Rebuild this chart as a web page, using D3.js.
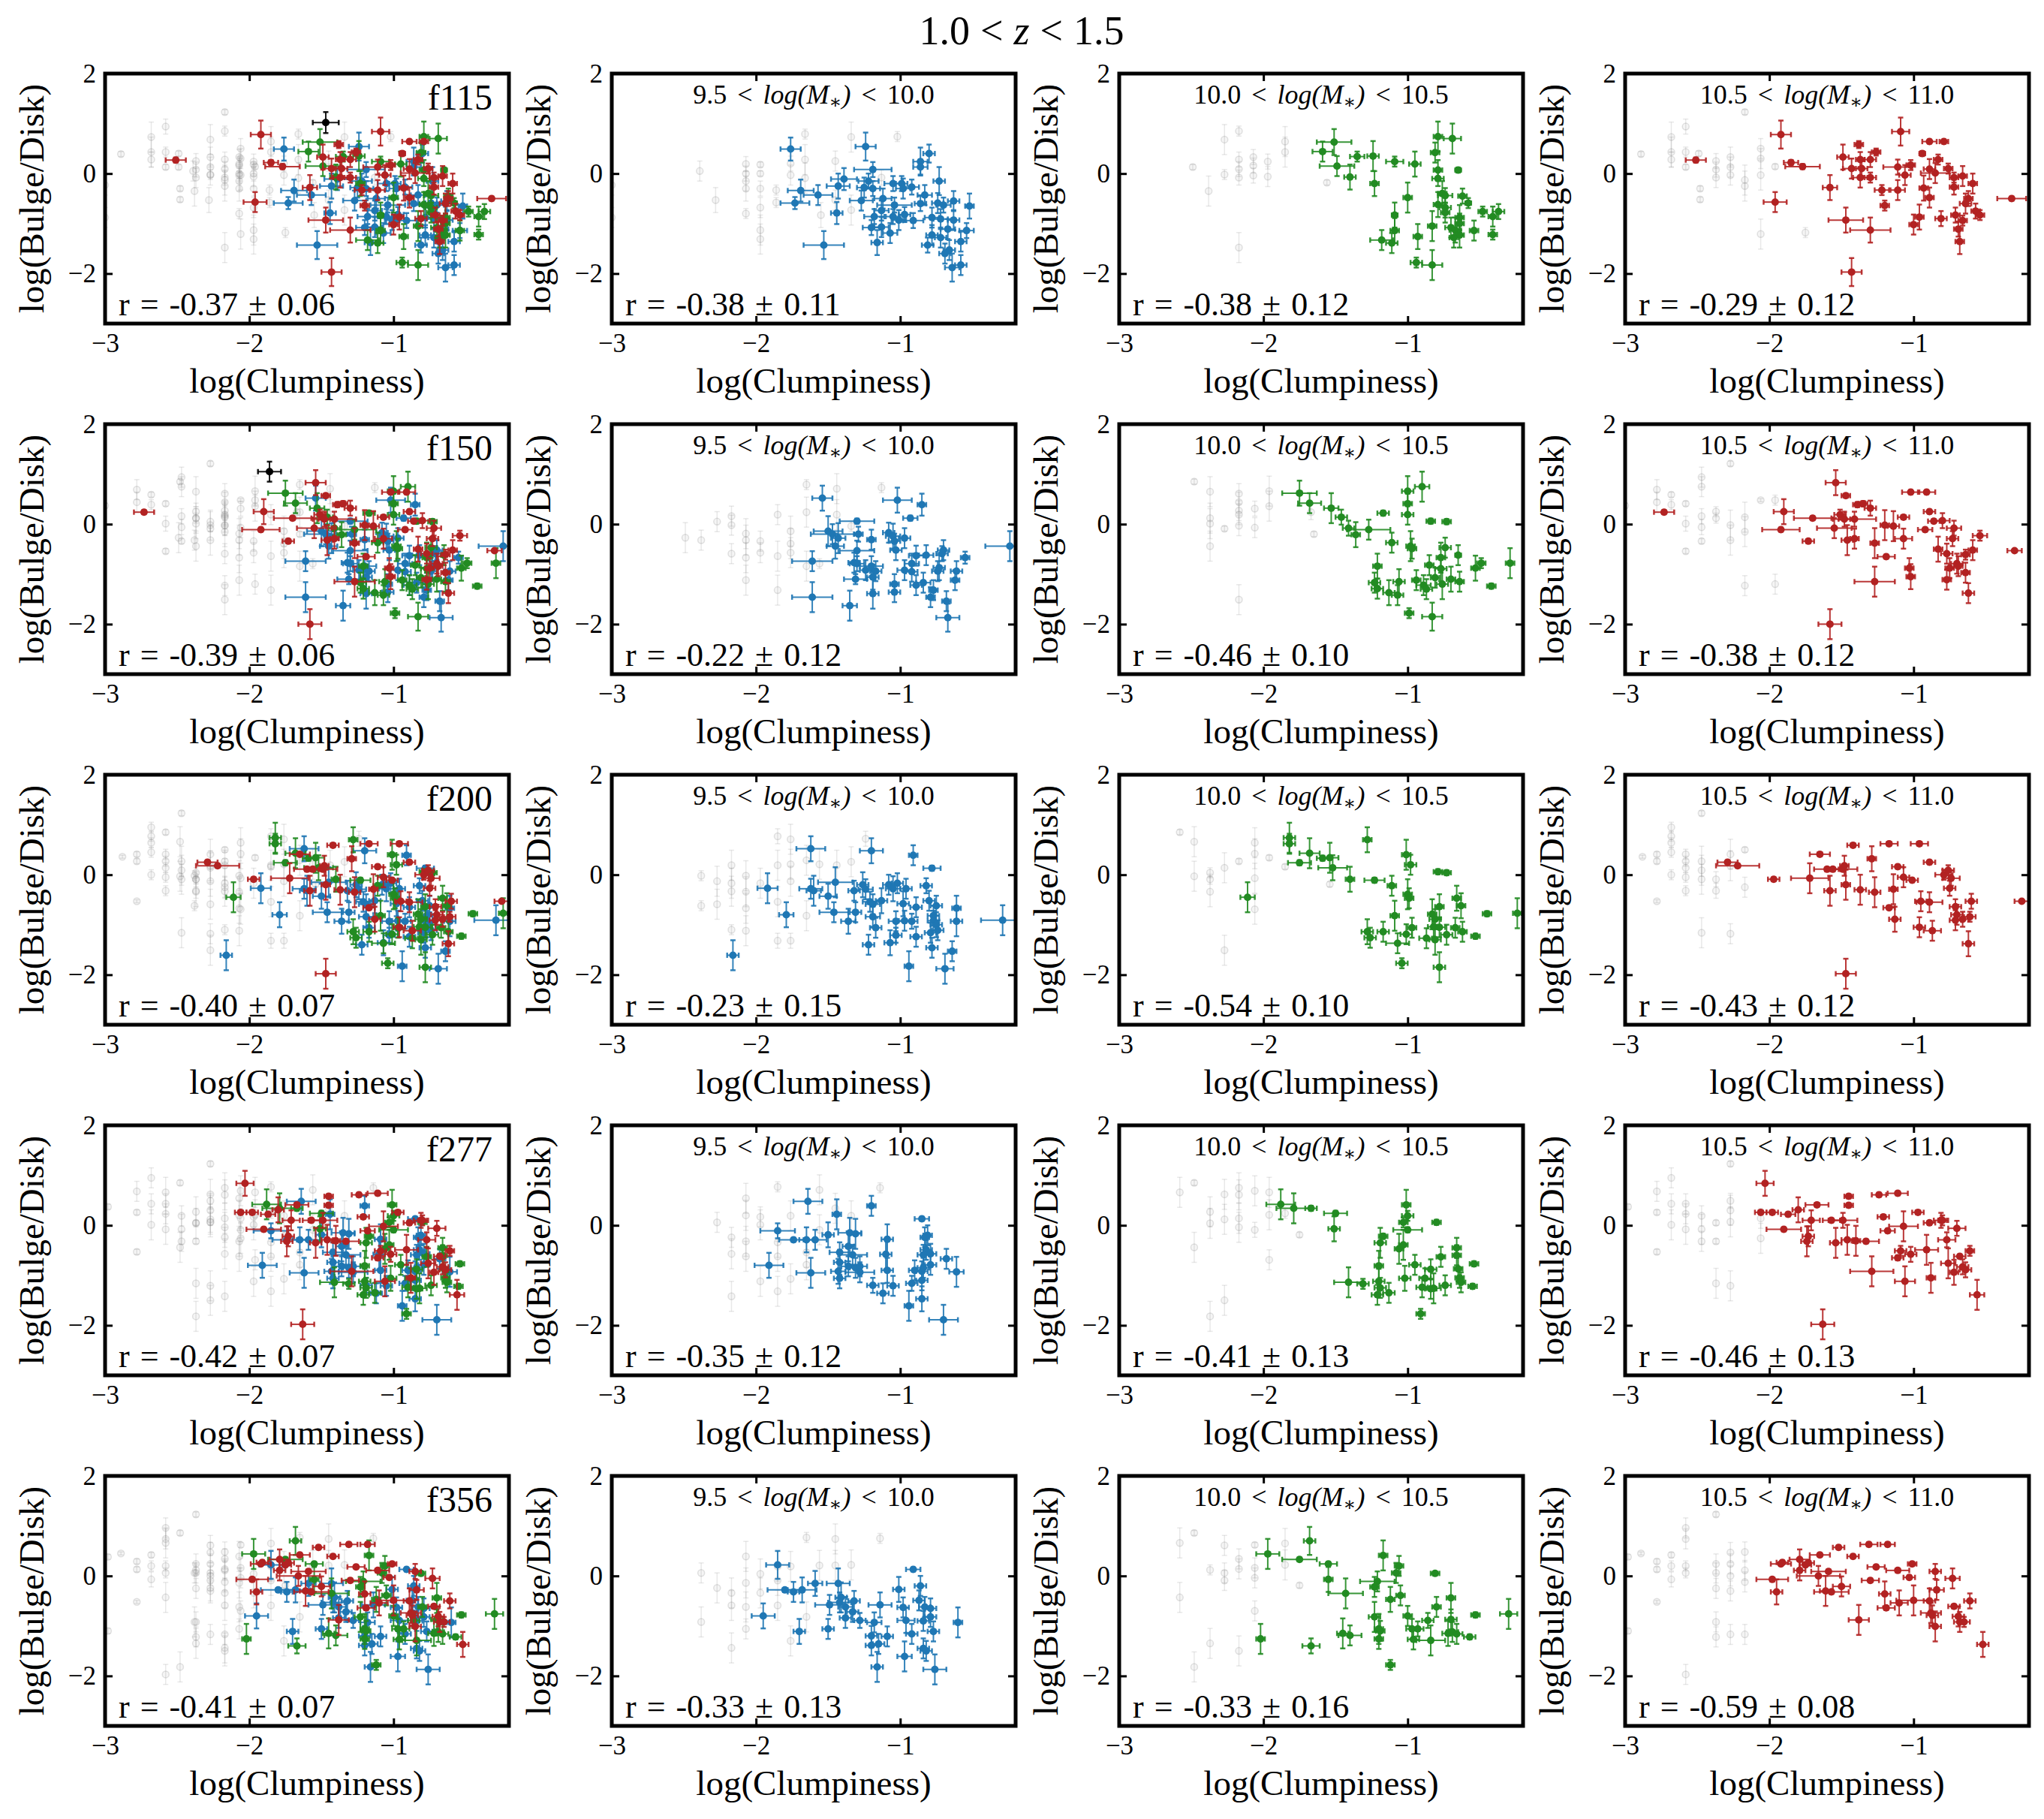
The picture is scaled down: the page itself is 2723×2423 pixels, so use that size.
<!DOCTYPE html>
<html>
<head>
<meta charset="utf-8">
<script src="https://cdn.jsdelivr.net/npm/d3@7"></script>
<style>
  body { margin: 0; background: #fff; }
  svg text { font-family: "Liberation Serif", "DejaVu Serif", serif; }
</style>
</head>
<body>
<div id="chart"></div>
<script>
var filters = ["f115", "f150", "f200", "f277", "f356"];
var massBins = [["9.5", "10.0"], ["10.0", "10.5"], ["10.5", "11.0"]];
var rCoef = [[-0.37, -0.38, -0.38, -0.29],
             [-0.39, -0.22, -0.46, -0.38],
             [-0.40, -0.23, -0.54, -0.43],
             [-0.42, -0.35, -0.41, -0.46],
             [-0.41, -0.33, -0.33, -0.59]];
var rErr  = [[0.06, 0.11, 0.12, 0.12],
             [0.06, 0.12, 0.10, 0.12],
             [0.07, 0.15, 0.10, 0.12],
             [0.07, 0.12, 0.13, 0.13],
             [0.07, 0.13, 0.16, 0.08]];
var xTicks = [-3, -2, -1], yTicks = [-2, 0, 2];
var lo115 = [[-1.76,0.49,.07,.23],[-1.24,0.54,.07,.28],[-0.80,0.40,.04,.18],[-0.86,0.24,.05,.28],[-0.86,0.13,.05,.15],[-1.19,0.08,.13,.15],[-0.73,-0.15,.04,.28],[-1.39,-0.11,.09,.22],[-1.43,-0.25,.08,.25],[-1.22,-0.15,.07,.15],[-1.25,-0.28,.05,.2],[-1.19,-0.30,.05,.15],[-1.05,-0.20,.06,.15],[-0.99,-0.20,.04,.15],[-0.98,-0.30,.05,.2],[-0.92,-0.27,.05,.15],[-1.69,-0.34,.09,.22],[-1.57,-0.43,.1,.2],[-1.73,-0.59,.1,.12],[-1.27,-0.54,.08,.2],[-1.12,-0.50,.06,.2],[-0.83,-0.43,.05,.2],[-1.13,-0.74,.05,.2],[-1.04,-0.63,.12,.15],[-1.44,-0.79,.04,.22],[-1.18,-0.86,.07,.15],[-1.05,-0.86,.05,.15],[-1.01,-0.93,.05,.2],[-0.97,-0.82,.04,.15],[-0.91,-0.94,.07,.15],[-0.86,-0.60,.04,.15],[-0.74,-0.59,.04,.2],[-0.70,-0.63,.05,.15],[-0.63,-0.55,.04,.2],[-0.52,-0.65,.03,.25],[-0.78,-0.88,.05,.2],[-0.72,-0.91,.05,.2],[-0.63,-0.93,.04,.2],[-1.20,-1.08,.06,.15],[-1.13,-1.07,.05,.2],[-1.07,-1.19,.05,.2],[-1.16,-1.38,.04,.25],[-1.53,-1.43,.14,.28],[-0.78,-1.23,.04,.2],[-0.72,-1.28,.04,.2],[-0.67,-1.11,.05,.2],[-0.58,-1.36,.04,.2],[-0.54,-1.14,.05,.15],[-0.81,-1.43,.04,.15],[-0.69,-1.60,.04,.2],[-0.66,-1.53,.04,.2],[-0.64,-1.88,.05,.28],[-0.58,-1.83,.04,.2]];
var mid115 = [[-1.51,0.63,.12,.26],[-1.59,0.44,.07,.2],[-1.49,0.15,.12,.2],[-1.35,0.34,.05,.1],[-1.24,0.35,.04,.3],[-1.40,-0.07,.04,.25],[-1.23,-0.20,.03,.25],[-1.09,0.24,.06,.1],[-0.95,0.19,.04,.25],[-0.79,0.74,.03,.3],[-0.69,0.70,.06,.3],[-0.81,0.42,.03,.2],[-0.79,0.07,.03,.2],[-0.65,0.07,.02,.05],[-0.79,-0.10,.04,.15],[-1.00,-0.48,.03,.3],[-0.76,-0.40,.03,.25],[-0.74,-0.44,.05,.15],[-0.62,-0.45,.03,.15],[-0.58,-0.59,.02,.1],[-0.79,-0.62,.03,.25],[-0.74,-0.68,.04,.2],[-0.74,-0.78,.03,.2],[-0.48,-0.76,.03,.1],[-0.37,-0.76,.04,.15],[-0.41,-0.86,.03,.2],[-1.09,-0.83,.02,.25],[-0.64,-0.88,.03,.25],[-0.64,-1.00,.03,.2],[-0.83,-1.05,.03,.3],[-0.70,-1.08,.04,.2],[-0.67,-1.13,.04,.25],[-0.64,-1.23,.03,.25],[-0.54,-1.14,.03,.2],[-0.41,-1.22,.03,.1],[-1.09,-1.14,.03,.25],[-1.18,-1.33,.08,.2],[-1.11,-1.39,.04,.2],[-0.93,-1.26,.03,.25],[-0.94,-1.78,.04,.1],[-0.83,-1.83,.07,.3],[-0.68,-1.28,.03,.2]];
var hi115 = [[-1.92,0.78,.07,.28],[-1.09,0.84,.06,.28],[-2.51,0.27,.07,.05],[-1.85,0.22,.05,.05],[-1.77,0.14,.12,.05],[-1.38,0.58,.03,.07],[-1.26,0.43,.03,.07],[-1.49,0.33,.04,.25],[-1.37,0.28,.03,.15],[-1.30,0.28,.04,.15],[-1.43,0.10,.06,.2],[-1.36,0.10,.04,.15],[-1.37,-0.08,.05,.2],[-1.30,-0.08,.04,.1],[-1.11,0.13,.1,.15],[-1.02,0.17,.03,.1],[-0.94,0.40,.02,.05],[-0.89,0.09,.04,.2],[-0.83,0.28,.03,.1],[-0.89,0.64,.05,.04],[-0.79,0.64,.03,.04],[-0.76,0.10,.03,.1],[-0.85,0.01,.1,.2],[-1.06,-0.03,.04,.2],[-0.72,-0.08,.03,.1],[-0.66,-0.05,.03,.2],[-0.59,-0.20,.03,.2],[-0.72,-0.27,.03,.15],[-1.58,-0.28,.05,.25],[-1.22,-0.33,.05,.1],[-1.11,-0.33,.05,.2],[-0.93,-0.29,.03,.25],[-0.89,-0.48,.03,.2],[-1.20,-0.64,.03,.1],[-1.96,-0.57,.08,.2],[-0.62,-0.50,.03,.15],[-0.64,-0.60,.04,.2],[-0.57,-0.75,.03,.15],[-0.54,-0.83,.03,.1],[-0.71,-0.83,.03,.15],[-0.66,-0.94,.03,.1],[-0.81,-0.90,.04,.15],[-0.96,-0.87,.03,.25],[-1.00,-1.02,.03,.2],[-0.69,-1.11,.03,.15],[-1.47,-0.93,.12,.25],[-1.30,-1.13,.14,.25],[-0.68,-1.36,.03,.25],[-0.32,-0.50,.1,.04],[-1.43,-1.97,.07,.28]];
var gLo115 = [[-3.0,-0.23,.2],[-3.0,-0.88,.2],[-2.39,0.05,.2],[-2.28,-0.53,.25],[-2.07,0.19,.15],[-2.07,0,.15],[-2.07,-0.15,.2],[-2.07,-0.30,.25],[-2.07,-0.80,.1],[-1.97,0.18,.05],[-1.97,0,.05],[-1.97,-0.30,.15],[-1.97,-0.68,.2],[-1.97,-1.13,.3],[-1.97,-1.31,.3],[-1.86,-0.33,.1],[-1.86,-0.58,.1],[-1.76,0.20,.15],[-1.76,-0.03,.2],[-1.66,0.79,.1],[-1.66,0.28,.3],[-1.66,-0.09,.3],[-1.55,-0.83,.25],[-1.45,0.25,.2],[-1.45,-0.53,.2],[-1.34,0.73,.3],[-1.34,-0.73,.3],[-1.13,-0.08,.15],[-1.02,0.74,.1]];
var gMid115 = [[-2.49,0.13,.05],[-2.38,-0.35,.3],[-2.27,0.68,.3],[-2.27,-0.02,.1],[-2.17,0.85,.1],[-2.17,0.28,.15],[-2.17,0.09,.15],[-2.17,-0.08,.15],[-2.07,0.33,.15],[-2.07,0.16,.15],[-2.07,-0.04,.15],[-1.97,0.24,.15],[-1.97,-0.06,.2],[-1.85,0.64,.3],[-1.85,0.43,.3],[-2.17,-1.48,.3],[-1.56,-0.18,.05]];
var gHi115 = [[-2.89,0.39,.05],[-2.68,0.73,.3],[-2.68,0.43,.3],[-2.68,0.28,.15],[-2.58,0.94,.15],[-2.58,0.43,.1],[-2.58,0.13,.05],[-2.49,0.40,.05],[-2.48,-0.30,.05],[-2.48,-0.52,.05],[-2.37,0.25,.15],[-2.37,0.08,.15],[-2.37,-0.08,.2],[-2.27,0.33,.2],[-2.27,0.13,.2],[-2.27,-0.03,.2],[-2.17,1.23,.05],[-2.17,-0.13,.3],[-2.17,-0.25,.3],[-2.06,0.50,.2],[-2.06,0.30,.2],[-2.06,-0.03,.3],[-2.06,-1.21,.3],[-1.96,0.14,.05],[-1.75,-1.18,.1]];
var other115 = [[-1.47,1.02,.09,.21]];
var lo150 = [[-1.54,0.52,.07,.25],[-1.02,0.48,.1,.25],[-0.85,0.39,.03,.22],[-0.93,0.12,.05,.05],[-1.30,0.06,.12,.05],[-1.50,-0.14,.1,.3],[-1.47,-0.20,.15,.2],[-1.43,-0.28,.05,.3],[-1.45,-0.44,.06,.25],[-1.29,-0.20,.03,.15],[-1.20,-0.31,.03,.2],[-1.08,-0.17,.04,.2],[-1.05,-0.24,.05,.25],[-1.04,-0.34,.04,.15],[-0.97,-0.28,.04,.2],[-1.03,-0.52,.04,.2],[-1.30,-0.53,.12,.2],[-1.32,-0.77,.04,.2],[-1.30,-0.79,.05,.15],[-1.24,-0.92,.04,.2],[-1.20,-0.84,.08,.2],[-1.17,-0.94,.04,.2],[-1.31,-1.10,.08,.1],[-1.19,-1.06,.04,.25],[-0.89,-0.63,.05,.2],[-0.82,-0.62,.05,.2],[-0.70,-0.52,.04,.2],[-0.71,-0.59,.04,.15],[-0.55,-0.67,.03,.12],[-0.92,-0.79,.05,.2],[-0.97,-0.92,.05,.2],[-0.92,-0.95,.04,.2],[-0.73,-0.87,.04,.25],[-0.74,-0.94,.04,.2],[-0.61,-0.94,.04,.2],[-0.62,-1.12,.03,.2],[-1.04,-1.20,.03,.2],[-0.89,-1.22,.04,.2],[-0.84,-1.17,.05,.2],[-0.77,-1.32,.03,.2],[-1.04,-1.36,.04,.2],[-1.19,-1.39,.04,.3],[-0.79,-1.46,.03,.2],[-0.68,-1.54,.03,.2],[-0.67,-1.87,.08,.28],[-1.61,-1.46,.14,.3],[-1.61,-0.74,.14,.2],[-1.35,-1.63,.05,.3],[-0.24,-0.44,.17,.3]];
var mid150 = [[-1.75,0.62,.12,.25],[-1.68,0.42,.08,.2],[-1.53,0.32,.05,.3],[-1.46,0.14,.04,.15],[-1.41,-0.08,.04,.15],[-1.36,-0.21,.03,.25],[-1.27,-0.11,.15,.2],[-1.17,0.22,.04,.05],[-1.00,0.66,.04,.3],[-0.90,0.75,.05,.3],[-1.00,0.41,.03,.2],[-1.00,0.19,.04,.2],[-0.84,0.06,.03,.05],[-0.73,0.05,.03,.05],[-1.11,-0.37,.04,.2],[-0.98,-0.44,.03,.3],[-0.97,-0.49,.03,.2],[-0.74,-0.47,.04,.2],[-0.77,-0.67,.03,.3],[-0.65,-0.62,.02,.2],[-1.21,-0.84,.03,.25],[-0.85,-0.82,.03,.2],[-0.77,-0.89,.04,.25],[-0.81,-1.07,.03,.2],[-0.94,-1.12,.03,.2],[-1.06,-1.15,.04,.25],[-1.23,-1.17,.04,.2],[-1.21,-1.29,.04,.2],[-1.13,-1.37,.04,.25],[-1.07,-1.42,.04,.2],[-0.89,-1.22,.05,.2],[-0.87,-1.30,.04,.2],[-0.76,-1.20,.04,.3],[-0.70,-1.10,.03,.25],[-0.64,-1.15,.03,.2],[-0.53,-0.88,.03,.25],[-0.49,-0.78,.03,.1],[-0.42,-1.24,.03,.05],[-0.29,-0.78,.03,.3],[-0.99,-1.78,.03,.1],[-0.83,-1.85,.07,.28]];
var hi150 = [[-2.73,0.24,.07,.04],[-1.90,0.25,.07,.25],[-1.92,-0.11,.13,.04],[-1.70,0.12,.13,.04],[-1.73,-0.34,.04,.04],[-1.54,0.83,.07,.25],[-1.47,0.57,.03,.04],[-1.51,0.19,.04,.1],[-1.48,0.10,.04,.15],[-1.55,-0.08,.12,.2],[-1.46,-0.32,.04,.3],[-1.41,-0.29,.03,.2],[-1.41,0.10,.15,.15],[-1.39,0.39,.03,.05],[-1.35,0.41,.03,.05],[-1.30,0.32,.04,.15],[-1.20,-0.02,.03,.3],[-1.14,-0.04,.04,.3],[-1.27,-0.38,.03,.3],[-1.19,-0.65,.06,.04],[-1.27,-1.15,.14,.3],[-1.07,0.14,.04,.04],[-1.07,-0.29,.06,.2],[-1.02,0.64,.06,.04],[-0.91,0.64,.06,.04],[-1.03,-0.88,.03,.2],[-1.02,-1.05,.03,.25],[-0.92,-0.11,.05,.04],[-0.89,0.25,.04,.04],[-0.86,0.06,.04,.04],[-0.80,0.07,.05,.15],[-0.72,-0.08,.05,.15],[-0.73,-0.29,.04,.15],[-0.83,-0.50,.03,.25],[-0.77,-0.59,.04,.2],[-0.75,-0.88,.03,.2],[-0.70,-0.79,.04,.2],[-0.69,-0.84,.03,.2],[-0.77,-1.11,.03,.2],[-0.64,-0.61,.03,.1],[-0.64,-0.97,.03,.2],[-0.59,-0.52,.03,.2],[-0.54,-0.23,.05,.1],[-0.62,-1.38,.04,.2],[-0.30,-0.53,.05,.03],[-1.58,-2.00,.08,.3]];
var gLo150 = [[-2.49,-0.27,.3],[-2.38,-0.32,.2],[-2.27,0.05,.2],[-2.17,0.16,.2],[-2.17,-0.02,.2],[-2.17,-0.59,.2],[-2.07,-0.19,.3],[-2.07,-0.32,.3],[-2.07,-0.67,.3],[-2.07,-1.12,.3],[-1.97,-0.34,.2],[-1.97,-0.57,.2],[-1.85,0.19,.2],[-1.85,-0.64,.3],[-1.85,-1.32,.3],[-1.76,-0.14,.3],[-1.76,-0.39,.3],[-1.76,-0.57,.3],[-1.65,0.79,.1],[-1.65,0.24,.3],[-1.65,-0.84,.3],[-1.56,-0.79,.1],[-1.44,0.71,.3],[-1.44,0.19,.3],[-1.34,-0.04,.1],[-1.13,0.73,.1]];
var gMid150 = [[-2.48,0.85,.05],[-2.37,0.65,.3],[-2.37,0.12,.3],[-2.37,0.01,.3],[-2.37,-0.44,.3],[-2.27,-0.09,.05],[-2.17,0.61,.2],[-2.17,0.44,.2],[-2.17,0.27,.2],[-2.17,0.19,.2],[-2.17,-0.03,.2],[-2.17,-1.51,.3],[-2.06,0.31,.15],[-2.06,-0.07,.2],[-1.96,0.66,.3],[-1.96,0.36,.3],[-1.65,-0.20,.05],[-1.67,0.24,.15]];
var gHi150 = [[-3.0,0.37,.05],[-2.78,0.69,.2],[-2.78,0.44,.2],[-2.68,0.59,.05],[-2.68,0.39,.1],[-2.58,0.41,.05],[-2.58,0.01,.15],[-2.58,-0.54,.05],[-2.47,0.94,.2],[-2.47,0.75,.2],[-2.47,0.16,.15],[-2.47,-0.06,.15],[-2.47,-0.34,.05],[-2.37,0.25,.1],[-2.37,0.12,.1],[-2.27,1.21,.05],[-2.27,-0.02,.3],[-2.27,-0.32,.3],[-2.17,0.14,.3],[-2.17,-0.15,.3],[-2.17,-1.23,.2],[-2.06,0.48,.03],[-1.96,0.48,.1],[-1.96,-1.20,.2]];
var other150 = [[-1.86,1.05,.08,.2]];
var lo200 = [[-1.62,0.52,.1,.25],[-1.20,0.48,.08,.25],[-0.91,0.39,.03,.2],[-0.78,0.13,.06,.05],[-1.92,-0.27,.07,.3],[-1.62,-0.28,.08,.2],[-1.60,-0.32,.05,.3],[-1.45,-0.15,.12,.3],[-1.50,-0.43,.06,.25],[-1.32,-0.32,.04,.2],[-1.26,-0.20,.04,.25],[-1.24,-0.29,.05,.2],[-1.08,-0.20,.04,.2],[-1.02,-0.17,.04,.2],[-1.05,-0.28,.05,.25],[-0.96,-0.28,.04,.2],[-0.82,-0.22,.04,.15],[-1.21,-0.54,.05,.2],[-1.13,-0.52,.04,.25],[-1.19,-0.59,.05,.2],[-0.98,-0.58,.04,.25],[-0.89,-0.65,.04,.2],[-0.80,-0.52,.04,.2],[-0.75,-0.62,.04,.2],[-0.61,-0.67,.03,.25],[-1.46,-0.75,.1,.2],[-1.31,-0.75,.04,.2],[-1.79,-0.80,.05,.25],[-1.36,-0.93,.05,.25],[-1.19,-0.84,.05,.2],[-1.17,-1.06,.04,.2],[-1.03,-0.93,.05,.2],[-0.97,-0.92,.04,.2],[-0.92,-0.93,.04,.15],[-0.77,-0.82,.04,.2],[-0.77,-0.92,.04,.2],[-0.75,-1.00,.04,.25],[-0.61,-0.93,.04,.3],[-1.03,-1.21,.04,.15],[-0.89,-1.24,.04,.2],[-0.79,-1.16,.04,.2],[-0.74,-1.11,.04,.2],[-1.22,-1.40,.04,.2],[-1.07,-1.36,.04,.25],[-0.78,-1.46,.04,.2],[-0.64,-1.53,.03,.2],[-0.94,-1.83,.03,.3],[-0.69,-1.88,.06,.3],[-2.16,-1.61,.04,.3],[-0.29,-0.91,.15,.3]];
var mid200 = [[-2.11,-0.45,.05,.3],[-1.82,0.74,.04,.3],[-1.82,0.62,.04,.2],[-1.75,0.24,.08,.05],[-1.68,0.43,.07,.3],[-1.59,0.33,.04,.05],[-1.54,0.34,.06,.3],[-1.52,0.14,.1,.25],[-1.40,-0.09,.03,.25],[-1.28,0.70,.03,.25],[-1.23,-0.11,.07,.05],[-1.11,-0.22,.03,.2],[-1.01,0.40,.03,.3],[-0.98,0.20,.04,.2],[-0.79,0.06,.03,.05],[-0.73,0.04,.03,.05],[-1.00,-0.39,.03,.3],[-0.99,-0.47,.03,.2],[-1.09,-0.82,.03,.3],[-1.17,-1.14,.04,.2],[-1.28,-1.14,.04,.25],[-1.26,-1.26,.04,.2],[-1.07,-1.37,.08,.2],[-1.01,-1.19,.04,.2],[-0.97,-1.06,.03,.2],[-0.83,-0.79,.03,.3],[-0.81,-0.89,.04,.2],[-0.78,-0.64,.03,.25],[-0.66,-0.47,.03,.25],[-0.63,-0.62,.03,.25],[-0.82,-1.04,.04,.2],[-0.78,-1.05,.04,.2],[-0.67,-1.06,.03,.2],[-0.62,-1.14,.03,.2],[-0.73,-1.20,.04,.2],[-0.87,-1.27,.05,.2],[-0.81,-1.30,.04,.3],[-0.53,-1.23,.03,.05],[-0.45,-0.78,.03,.05],[-0.24,-0.77,.03,.3],[-1.04,-1.77,.04,.1],[-0.78,-1.85,.04,.3]];
var hi200 = [[-2.29,0.25,.07,.04],[-2.22,0.18,.15,.04],[-1.97,-0.09,.04,.04],[-1.72,-0.07,.13,.3],[-1.65,0.41,.07,.04],[-1.60,0.11,.09,.04],[-1.56,0.11,.04,.04],[-1.58,-0.32,.04,.3],[-1.49,0.11,.1,.04],[-1.48,0.18,.03,.2],[-1.47,-0.20,.03,.3],[-1.42,0.59,.04,.04],[-1.37,-0.30,.04,.3],[-1.29,0.32,.03,.25],[-1.27,-0.35,.04,.3],[-1.17,0.62,.06,.04],[-1.17,-0.66,.04,.04],[-1.14,-0.29,.03,.3],[-1.13,-0.89,.04,.25],[-1.11,0.16,.04,.04],[-1.07,-0.05,.04,.2],[-1.01,-0.11,.04,.04],[-0.96,0.62,.06,.04],[-0.89,0.25,.04,.04],[-0.95,-0.53,.04,.2],[-0.89,-0.55,.09,.2],[-0.96,-1.05,.04,.2],[-0.87,-1.12,.06,.2],[-0.79,0.00,.06,.1],[-0.76,0.09,.04,.1],[-0.74,-0.07,.06,.15],[-0.75,-0.27,.04,.15],[-0.71,-0.64,.04,.15],[-0.70,-0.80,.04,.2],[-0.71,-0.91,.04,.2],[-0.66,-0.89,.04,.15],[-0.61,-0.84,.04,.1],[-0.60,-0.53,.04,.15],[-0.62,-1.38,.04,.25],[-0.25,-0.53,.05,.03],[-1.47,-1.98,.07,.3]];
var gLo200 = [[-2.38,-0.02,.1],[-2.38,-0.62,.1],[-2.27,-0.13,.3],[-2.27,-0.59,.3],[-2.17,0.19,.3],[-2.17,-0.17,.3],[-2.17,-0.33,.3],[-2.17,-1.10,.1],[-2.07,-0.02,.3],[-2.07,-0.34,.3],[-2.07,-0.67,.3],[-2.07,-1.12,.3],[-1.97,-0.17,.3],[-1.85,0.77,.15],[-1.85,0.19,.3],[-1.85,-0.54,.3],[-1.85,-1.32,.15],[-1.76,0.71,.3],[-1.76,0.21,.3],[-1.76,-0.13,.3],[-1.76,-1.32,.15],[-1.65,0.29,.3],[-1.65,-0.82,.3],[-1.56,0.21,.3],[-1.44,0.19,.3],[-1.34,0.26,.3],[-1.24,0.72,.15]];
var gMid200 = [[-2.58,0.85,.05],[-2.48,0.66,.3],[-2.48,-0.03,.3],[-2.37,0.04,.1],[-2.37,-0.09,.1],[-2.37,-0.34,.3],[-2.27,0.14,.3],[-2.27,-1.51,.3],[-2.17,0.27,.05],[-2.06,0.64,.3],[-2.06,0.42,.3],[-2.06,-0.07,.3],[-2.06,-0.69,.3],[-1.96,0.34,.05],[-1.85,0.16,.05],[-1.54,-0.19,.05]];
var gHi200 = [[-2.88,0.36,.03],[-2.78,0.41,.05],[-2.78,0.27,.05],[-2.78,-0.53,.03],[-2.68,0.95,.1],[-2.68,0.77,.1],[-2.68,0.64,.1],[-2.68,0.45,.1],[-2.68,0.0,.1],[-2.58,0.41,.1],[-2.58,0.27,.1],[-2.58,0.14,.1],[-2.58,-0.05,.1],[-2.58,-0.32,.1],[-2.47,1.23,.05],[-2.47,0.27,.3],[-2.47,0.09,.3],[-2.47,-0.09,.3],[-2.47,-1.16,.3],[-2.37,-0.09,.15],[-2.37,-0.32,.15],[-2.27,0.41,.3],[-2.27,0.18,.3],[-2.27,-1.18,.2],[-2.17,0.50,.05],[-2.17,-0.25,.2]];
var other200 = [];
var lo277 = [[-1.64,0.48,.1,.25],[-1.20,0.39,.03,.2],[-0.85,0.13,.05,.04],[-1.44,0.22,.03,.3],[-1.85,-0.11,.12,.15],[-1.74,-0.29,.1,.04],[-1.65,-0.29,.05,.25],[-1.59,-0.29,.08,.2],[-1.50,-0.19,.04,.25],[-1.35,-0.15,.08,.3],[-1.31,-0.17,.04,.3],[-1.36,-0.42,.04,.3],[-1.42,-0.54,.07,.2],[-1.33,-0.59,.1,.2],[-1.42,-0.74,.04,.25],[-1.36,-0.82,.05,.2],[-1.31,-0.85,.04,.2],[-1.28,-0.82,.05,.2],[-1.43,-0.92,.05,.25],[-1.28,-0.94,.1,.2],[-1.42,-1.06,.04,.2],[-1.91,-0.80,.1,.25],[-1.62,-0.95,.1,.3],[-1.09,-0.28,.04,.3],[-1.10,-0.58,.04,.3],[-1.09,-0.90,.04,.25],[-1.19,-1.20,.04,.15],[-1.05,-1.21,.04,.2],[-1.12,-1.36,.04,.2],[-0.92,-1.16,.04,.15],[-0.85,-1.10,.04,.2],[-0.85,-0.92,.04,.2],[-0.90,-0.90,.04,.2],[-0.84,-0.85,.04,.2],[-0.82,-0.49,.04,.2],[-0.84,-0.59,.04,.2],[-0.81,-0.20,.03,.2],[-0.83,-0.24,.03,.2],[-0.79,-0.57,.04,.2],[-0.79,-0.79,.04,.2],[-0.68,-0.67,.04,.2],[-0.61,-0.93,.05,.3],[-0.85,-1.47,.04,.25],[-0.94,-1.61,.03,.3],[-0.70,-1.89,.1,.3]];
var mid277 = [[-1.88,0.42,.1,.3],[-1.79,0.34,.12,.3],[-1.67,0.34,.04,.05],[-1.50,0.24,.08,.05],[-1.51,-0.07,.04,.25],[-1.01,0.41,.03,.3],[-1.00,0.19,.04,.1],[-1.03,0.06,.03,.1],[-1.00,-0.09,.1,.05],[-0.80,0.06,.03,.05],[-1.17,-0.22,.03,.05],[-1.19,-0.35,.04,.3],[-1.06,-0.47,.03,.3],[-1.03,-0.39,.03,.3],[-1.20,-0.81,.03,.3],[-1.41,-1.14,.1,.3],[-1.31,-1.17,.04,.1],[-1.20,-1.12,.04,.25],[-1.19,-1.25,.04,.2],[-1.21,-1.39,.04,.2],[-1.13,-1.35,.04,.2],[-1.02,-1.06,.04,.25],[-0.95,-0.79,.04,.2],[-0.84,-0.88,.04,.2],[-0.88,-1.06,.04,.2],[-0.90,-1.24,.04,.2],[-0.82,-1.26,.05,.3],[-0.84,-1.27,.04,.2],[-0.77,-0.63,.03,.2],[-0.66,-0.45,.03,.2],[-0.66,-0.60,.03,.2],[-0.65,-0.87,.03,.25],[-0.64,-1.05,.03,.2],[-0.63,-1.14,.03,.2],[-0.74,-1.20,.04,.2],[-0.55,-1.22,.03,.05],[-0.54,-0.77,.03,.05],[-0.91,-1.77,.03,.1]];
var hi277 = [[-2.03,0.84,.06,.25],[-2.06,0.26,.04,.04],[-1.98,0.26,.04,.04],[-1.87,0.22,.05,.04],[-1.80,0.31,.04,.25],[-1.67,0.41,.08,.04],[-1.90,-0.08,.12,.04],[-1.71,0.10,.06,.2],[-1.73,-0.22,.04,.2],[-1.74,-0.32,.04,.3],[-1.57,0.10,.06,.04],[-1.49,0.10,.1,.15],[-1.45,0.58,.03,.04],[-1.45,0.40,.03,.04],[-1.54,-0.35,.04,.3],[-1.46,-0.29,.04,.3],[-1.40,-0.31,.03,.3],[-1.33,-0.32,.09,.04],[-1.29,-0.92,.15,.3],[-1.24,0.61,.05,.04],[-1.11,0.64,.07,.04],[-1.21,0.17,.04,.04],[-1.18,-0.11,.05,.04],[-1.07,-0.02,.1,.3],[-1.09,-0.51,.04,.1],[-1.11,-0.65,.04,.05],[-1.02,-0.58,.04,.15],[-1.06,-1.12,.07,.3],[-0.97,0.26,.04,.04],[-0.89,0.05,.04,.04],[-0.81,0.10,.05,.15],[-0.80,0.10,.03,.1],[-0.70,-0.06,.06,.15],[-0.77,-0.29,.06,.15],[-0.91,-0.49,.08,.3],[-0.88,-1.05,.03,.3],[-0.76,-0.76,.05,.3],[-0.72,-0.94,.03,.25],[-0.68,-0.62,.04,.04],[-0.66,-0.83,.04,.15],[-0.64,-0.89,.04,.15],[-0.61,-0.51,.03,.1],[-0.56,-1.39,.05,.3],[-1.63,-1.98,.08,.3]];
var gLo277 = [[-2.27,0.06,.2],[-2.17,-0.24,.2],[-2.17,-0.57,.3],[-2.17,-1.42,.3],[-2.07,0.54,.3],[-2.07,0.20,.3],[-2.07,-0.32,.3],[-2.07,-0.62,.3],[-1.97,0.17,.2],[-1.97,0.01,.3],[-1.97,-1.12,.3],[-1.85,0.77,.1],[-1.85,-0.34,.3],[-1.85,-0.62,.3],[-1.85,-1.32,.3],[-1.76,0.19,.3],[-1.76,-1.07,.3],[-1.65,-0.54,.3],[-1.65,-0.79,.3],[-1.56,0.71,.3],[-1.56,-0.09,.3],[-1.45,0.34,.3],[-1.34,0.19,.3],[-1.14,0.75,.1]];
var gMid277 = [[-2.58,0.66,.3],[-2.48,0.85,.05],[-2.48,-0.44,.3],[-2.37,0.27,.3],[-2.37,0.04,.3],[-2.37,-1.82,.3],[-2.27,0.62,.3],[-2.27,0.12,.3],[-2.27,-1.50,.3],[-2.17,0.75,.3],[-2.17,0.61,.3],[-2.17,0.14,.3],[-2.17,-0.04,.3],[-2.06,0.69,.3],[-2.06,-0.09,.15],[-1.96,0.66,.3],[-1.96,0.21,.3],[-1.96,-0.69,.2],[-1.85,0.24,.1],[-1.75,-0.19,.05]];
var gHi277 = [[-2.98,0.37,.05],[-2.78,0.68,.2],[-2.78,0.26,.05],[-2.78,-0.53,.05],[-2.68,0.95,.2],[-2.68,0.43,.2],[-2.68,0.01,.3],[-2.58,0.43,.2],[-2.58,0.23,.2],[-2.58,-0.08,.3],[-2.47,0.19,.2],[-2.47,-0.08,.3],[-2.47,-0.32,.2],[-2.37,0.05,.05],[-2.37,-0.32,.05],[-2.37,-1.16,.3],[-2.27,1.23,.05],[-2.27,0.49,.15],[-2.27,0.30,.3],[-2.27,0.07,.3],[-2.27,-1.21,.3],[-2.06,0.14,.2],[-2.06,-0.26,.3]];
var other277 = [];
var lo356 = [[-1.85,0.22,.08,.28],[-1.95,-0.80,.08,.25],[-1.80,-0.28,.12,.04],[-1.74,-0.32,.04,.2],[-1.68,-0.28,.1,.25],[-1.70,-1.11,.04,.25],[-1.59,-0.15,.05,.25],[-1.50,-1.06,.04,.2],[-1.49,-0.58,.1,.2],[-1.43,-0.15,.08,.3],[-1.41,-0.43,.04,.3],[-1.42,-0.53,.08,.2],[-1.38,-0.62,.05,.2],[-1.32,-0.50,.04,.2],[-1.33,-0.72,.04,.2],[-1.38,-0.84,.04,.2],[-1.28,-0.89,.04,.15],[-1.18,-0.93,.05,.2],[-1.20,-1.20,.04,.2],[-1.20,-1.39,.04,.2],[-1.15,-1.36,.04,.2],[-1.09,-1.21,.04,.2],[-1.14,-0.58,.08,.25],[-1.01,-0.27,.04,.25],[-0.98,-0.63,.04,.2],[-0.96,-0.89,.06,.25],[-0.92,-1.16,.04,.2],[-0.97,-1.61,.05,.3],[-1.16,-1.82,.04,.3],[-0.91,0.13,.05,.04],[-0.86,-0.20,.04,.2],[-0.87,-0.49,.04,.2],[-0.83,-0.62,.04,.2],[-0.79,-0.65,.04,.2],[-0.84,-0.90,.04,.2],[-0.79,-0.82,.04,.2],[-0.84,-1.45,.04,.2],[-0.82,-1.50,.04,.2],[-0.77,-1.11,.04,.2],[-0.76,-1.87,.08,.3],[-0.60,-0.93,.03,.3]];
var mid356 = [[-1.97,0.44,.08,.3],[-1.68,0.70,.04,.28],[-1.75,0.33,.12,.04],[-1.55,0.24,.06,.04],[-1.55,-0.07,.03,.25],[-1.43,-0.35,.12,.3],[-2.02,-1.26,.03,.3],[-1.67,-1.40,.06,.15],[-1.45,-1.15,.04,.3],[-1.40,-1.19,.08,.2],[-1.21,-0.11,.12,.2],[-1.23,-0.22,.03,.2],[-1.17,0.41,.03,.3],[-1.06,0.20,.03,.2],[-1.08,0.06,.03,.2],[-1.12,-0.47,.03,.25],[-1.05,-0.39,.03,.2],[-1.23,-0.82,.04,.3],[-1.20,-1.06,.03,.3],[-1.19,-1.10,.03,.2],[-1.20,-1.26,.03,.2],[-1.12,-1.78,.03,.1],[-1.00,-0.80,.03,.2],[-0.97,-1.06,.04,.2],[-0.93,-1.06,.04,.15],[-0.96,-1.27,.04,.2],[-0.84,-1.29,.1,.3],[-0.86,-0.89,.04,.15],[-0.81,0.05,.03,.04],[-0.80,-0.62,.03,.2],[-0.70,-0.44,.03,.3],[-0.70,-0.87,.04,.2],[-0.72,-1.15,.04,.25],[-0.69,-1.12,.04,.2],[-0.66,-1.16,.04,.2],[-0.57,-1.22,.04,.05],[-0.53,-0.78,.03,.05],[-0.30,-0.76,.06,.3]];
var hi356 = [[-1.98,-0.07,.11,.04],[-1.95,-0.32,.04,.25],[-1.92,0.24,.07,.04],[-1.91,0.27,.04,.04],[-1.79,0.33,.07,.2],[-1.79,0.11,.04,.2],[-1.75,0.22,.04,.04],[-1.73,0.26,.04,.04],[-1.65,0.42,.07,.04],[-1.66,0.00,.15,.2],[-1.59,0.09,.12,.04],[-1.61,-0.30,.04,.3],[-1.57,-0.32,.12,.04],[-1.50,-0.21,.06,.2],[-1.52,0.57,.04,.04],[-1.42,0.39,.04,.04],[-1.38,-0.88,.07,.3],[-1.31,0.63,.06,.04],[-1.18,0.63,.05,.04],[-1.26,0.18,.06,.04],[-1.30,-0.09,.06,.04],[-1.20,-0.36,.04,.25],[-1.19,-0.64,.06,.04],[-1.11,0.11,.08,.04],[-1.10,-0.54,.06,.25],[-1.03,-0.03,.04,.04],[-1.01,0.24,.03,.04],[-1.00,-0.49,.12,.3],[-0.89,-0.50,.04,.25],[-0.88,-0.74,.07,.2],[-0.87,-0.79,.04,.2],[-0.85,0.09,.04,.15],[-0.84,-0.28,.05,.2],[-0.85,-1.01,.04,.3],[-0.73,-0.05,.05,.2],[-0.72,-0.61,.04,.04],[-0.69,-0.81,.04,.2],[-0.68,-0.92,.04,.2],[-0.65,-0.92,.04,.1],[-0.61,-0.50,.04,.15],[-0.52,-1.37,.04,.25]];
var gLo356 = [[-2.38,0.06,.2],[-2.38,-0.92,.3],[-2.27,-0.24,.3],[-2.17,-0.34,.3],[-2.17,-0.59,.3],[-2.17,-1.44,.3],[-2.07,0.39,.3],[-2.07,-0.14,.3],[-2.07,-0.62,.3],[-2.07,-1.06,.2],[-1.97,0.04,.3],[-1.97,-0.34,.3],[-1.85,0.19,.3],[-1.85,-0.09,.3],[-1.85,-0.59,.3],[-1.76,0.19,.3],[-1.76,-1.30,.3],[-1.65,0.77,.1],[-1.65,-0.82,.3],[-1.56,0.21,.3],[-1.45,0.74,.3],[-1.45,0.21,.3],[-1.34,0.22,.3],[-1.14,0.75,.1]];
var gMid356 = [[-2.58,0.66,.3],[-2.58,-0.43,.3],[-2.48,0.86,.05],[-2.48,-1.82,.3],[-2.37,0.12,.1],[-2.37,-1.35,.3],[-2.27,0.61,.2],[-2.27,0.06,.2],[-2.27,-0.09,.2],[-2.17,0.34,.2],[-2.17,0.14,.2],[-2.17,-1.50,.3],[-2.06,0.62,.05],[-2.06,0.16,.2],[-2.06,-0.04,.2],[-2.06,-0.70,.2],[-1.85,0.65,.3],[-1.85,0.22,.3],[-1.75,-0.19,.05]];
var gHi356 = [[-2.98,0.38,.05],[-2.98,-1.10,.05],[-2.89,0.45,.03],[-2.78,0.29,.05],[-2.78,0.13,.05],[-2.78,-0.52,.03],[-2.68,0.42,.05],[-2.68,0.20,.1],[-2.68,-0.07,.15],[-2.58,0.96,.2],[-2.58,0.74,.2],[-2.58,0.20,.1],[-2.58,0.06,.1],[-2.58,-1.97,.2],[-2.37,1.23,.05],[-2.37,0.24,.2],[-2.37,0.06,.2],[-2.37,-0.25,.2],[-2.37,-0.92,.2],[-2.37,-1.22,.2],[-2.27,0.47,.2],[-2.27,0.24,.2],[-2.27,0.0,.2],[-2.27,-0.30,.2],[-2.27,-1.17,.2],[-2.17,0.48,.2],[-2.17,0.11,.2],[-2.17,-0.12,.2],[-2.17,-1.17,.2]];
var other356 = [];

var lowMass   = [lo115, lo150, lo200, lo277, lo356];
var midMass   = [mid115, mid150, mid200, mid277, mid356];
var highMass  = [hi115, hi150, hi200, hi277, hi356];
var greyLow   = [gLo115, gLo150, gLo200, gLo277, gLo356];
var greyMid   = [gMid115, gMid150, gMid200, gMid277, gMid356];
var greyHigh  = [gHi115, gHi150, gHi200, gHi277, gHi356];
var otherMass = [other115, other150, other200, other277, other356];

var width = 2723, height = 2423;
var colLeft = [140, 815, 1491, 2165],
    rowTop  = [98, 565, 1032, 1499, 1966];
var pw = 538, ph = 333;
var massColors = ["#1f77b4", "#228b22", "#b22222"];

var x = d3.scaleLinear().domain([-3, -0.2]).range([0, pw]),
    y = d3.scaleLinear().domain([-3, 2]).range([ph, 0]);

var svg = d3.select("#chart").append("svg")
    .attr("width", width)
    .attr("height", height)
    .style("background", "#fff");

var title = svg.append("text")
    .attr("x", 1361).attr("y", 59)
    .attr("text-anchor", "middle")
    .style("font-size", "54px");
title.append("tspan").text("1.0");
title.append("tspan").attr("dx", 14).text("<");
title.append("tspan").attr("dx", 14).style("font-style", "italic").text("z");
title.append("tspan").attr("dx", 14).text("<");
title.append("tspan").attr("dx", 14).text("1.5");

var fmt = d3.format("d");

function drawGrey(g, pts) {
  var cap = 3.5;
  var eb = g.append("g").attr("stroke", "#808080").attr("stroke-opacity", 0.18).attr("stroke-width", 1.5);
  pts.forEach(function(p) {
    var px = x(p[0]), y0 = y(p[1] - p[2]), y1 = y(p[1] + p[2]);
    eb.append("line").attr("x1", px).attr("x2", px).attr("y1", y0).attr("y2", y1);
    eb.append("line").attr("x1", px - cap).attr("x2", px + cap).attr("y1", y0).attr("y2", y0);
    eb.append("line").attr("x1", px - cap).attr("x2", px + cap).attr("y1", y1).attr("y2", y1);
  });
  g.append("g").selectAll("circle").data(pts).enter().append("circle")
    .attr("cx", function(d) { return x(d[0]); })
    .attr("cy", function(d) { return y(d[1]); })
    .attr("r", 4.5)
    .style("fill", "#808080").style("fill-opacity", 0.08)
    .style("stroke", "#808080").style("stroke-opacity", 0.22).style("stroke-width", 1.5);
}

function drawSet(g, pts, color) {
  var cap = 3.5;
  var eb = g.append("g").attr("stroke", color).attr("stroke-opacity", 0.9);
  pts.forEach(function(p) {
    var px = x(p[0]), py = y(p[1]);
    var xa = x(p[0] - p[2]), xb = x(p[0] + p[2]);
    var ya = y(p[1] - p[3]), yb = y(p[1] + p[3]);
    eb.append("line").attr("x1", xa).attr("x2", xb).attr("y1", py).attr("y2", py).attr("stroke-width", 2);
    eb.append("line").attr("x1", px).attr("x2", px).attr("y1", ya).attr("y2", yb).attr("stroke-width", 2);
    [xa, xb].forEach(function(cx) {
      eb.append("line").attr("x1", cx).attr("x2", cx).attr("y1", py - cap).attr("y2", py + cap).attr("stroke-width", 2.5);
    });
    [ya, yb].forEach(function(cy) {
      eb.append("line").attr("x1", px - cap).attr("x2", px + cap).attr("y1", cy).attr("y2", cy).attr("stroke-width", 2.5);
    });
  });
  g.append("g").selectAll("circle").data(pts).enter().append("circle")
    .attr("cx", function(d) { return x(d[0]); })
    .attr("cy", function(d) { return y(d[1]); })
    .attr("r", 5)
    .style("fill", color);
}

function massLabel(g, bin) {
  var t = g.append("text")
    .attr("x", pw / 2).attr("y", 40)
    .attr("text-anchor", "middle")
    .style("font-size", "36px");
  t.append("tspan").text(bin[0]);
  t.append("tspan").attr("dx", 14).text("<");
  t.append("tspan").attr("dx", 14).style("font-style", "italic").text("log(M");
  t.append("tspan").attr("dy", 6).style("font-size", "25px").text("\u2217");
  t.append("tspan").attr("dy", -6).style("font-style", "italic").text(")");
  t.append("tspan").attr("dx", 14).text("<");
  t.append("tspan").attr("dx", 14).text(bin[1]);
}

for (let r = 0; r < filters.length; r++) {
  for (let c = 0; c < 4; c++) {
    var g = svg.append("g")
      .attr("transform", `translate(${colLeft[c]}, ${rowTop[r]})`);
    var clipId = "clip-" + r + "-" + c;
    g.append("clipPath").attr("id", clipId)
      .append("rect").attr("width", pw).attr("height", ph);
    var plot = g.append("g").attr("clip-path", `url(#${clipId})`);

    if (c === 0) {
      drawGrey(plot, greyLow[r].concat(greyMid[r], greyHigh[r]));
      drawSet(plot, lowMass[r], massColors[0]);
      drawSet(plot, midMass[r], massColors[1]);
      drawSet(plot, highMass[r], massColors[2]);
      drawSet(plot, otherMass[r], "#000");
    } else {
      drawGrey(plot, [greyLow, greyMid, greyHigh][c - 1][r]);
      drawSet(plot, [lowMass, midMass, highMass][c - 1][r], massColors[c - 1]);
    }

    // inward ticks on all four sides
    var axB = g.append("g").attr("transform", `translate(0, ${ph})`)
      .call(d3.axisBottom(x).tickValues(xTicks).tickSizeInner(-10).tickSizeOuter(0).tickPadding(13).tickFormat(fmt));
    var axT = g.append("g")
      .call(d3.axisTop(x).tickValues(xTicks).tickSizeInner(-10).tickSizeOuter(0).tickFormat(""));
    var axL = g.append("g")
      .call(d3.axisLeft(y).tickValues(yTicks).tickSizeInner(-10).tickSizeOuter(0).tickPadding(12).tickFormat(fmt));
    var axR = g.append("g").attr("transform", `translate(${pw}, 0)`)
      .call(d3.axisRight(y).tickValues(yTicks).tickSizeInner(-10).tickSizeOuter(0).tickFormat(""));
    [axB, axT, axL, axR].forEach(function(a) {
      a.attr("font-family", null);
      a.select(".domain").remove();
      a.selectAll(".tick line").attr("stroke", "#000").attr("stroke-width", 3);
      a.selectAll(".tick text").style("font-size", "35px").attr("fill", "#000");
    });

    g.append("rect")
      .attr("width", pw).attr("height", ph)
      .style("fill", "none").style("stroke", "#000").style("stroke-width", 5);

    if (c === 0) {
      g.append("text")
        .attr("x", pw - 22).attr("y", 48)
        .attr("text-anchor", "end")
        .style("font-size", "48px")
        .text(filters[r]);
    } else {
      massLabel(g, massBins[c - 1]);
    }

    g.append("text")
      .attr("x", 18).attr("y", ph - 11)
      .style("font-size", "44px")
      .style("word-spacing", "3px")
      .text("r = " + rCoef[r][c].toFixed(2) + " \u00b1 " + rErr[r][c].toFixed(2));

    g.append("text")
      .attr("x", pw / 2).attr("y", ph + 92)
      .attr("text-anchor", "middle")
      .style("font-size", "47px")
      .text("log(Clumpiness)");

    g.append("text")
      .attr("transform", `translate(-82, ${ph / 2}) rotate(-90)`)
      .attr("text-anchor", "middle")
      .style("font-size", "47px")
      .text("log(Bulge/Disk)");
  }
}
</script>
</body>
</html>
